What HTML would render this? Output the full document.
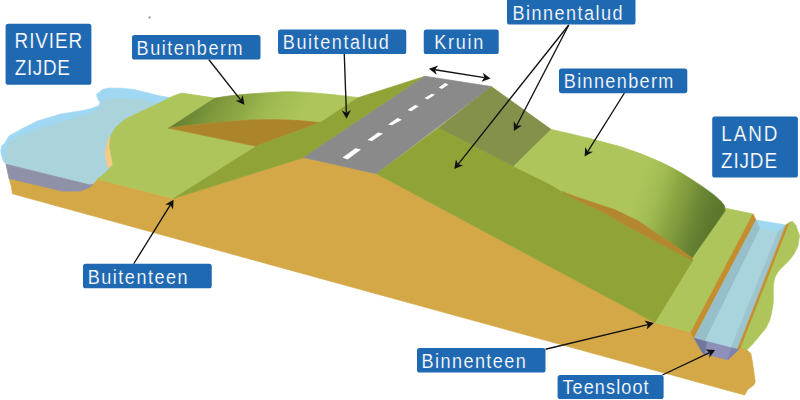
<!DOCTYPE html>
<html><head><meta charset="utf-8"><style>
html,body{margin:0;padding:0;background:#fff;width:800px;height:400px;overflow:hidden}
svg{display:block}
</style></head><body>
<svg width="800" height="400" viewBox="0 0 800 400">
<defs>
<linearGradient id="gb" gradientUnits="userSpaceOnUse" x1="169" y1="128" x2="257.1" y2="182.9"><stop offset="0" stop-color="#64802e"/><stop offset="0.13" stop-color="#6e8a36"/><stop offset="0.24" stop-color="#7a953a"/><stop offset="0.29" stop-color="#7f993d"/><stop offset="0.52" stop-color="#8fa946"/><stop offset="0.61" stop-color="#98b24d"/><stop offset="0.71" stop-color="#a0ba52"/><stop offset="0.92" stop-color="#a9c257"/><stop offset="1" stop-color="#adc55a"/></linearGradient>
<linearGradient id="gi" gradientUnits="userSpaceOnUse" x1="640" y1="183.9" x2="718.85" y2="209.6"><stop offset="0" stop-color="#adc55a"/><stop offset="0.12" stop-color="#a7c157"/><stop offset="0.23" stop-color="#a2bc54"/><stop offset="0.35" stop-color="#96b04b"/><stop offset="0.45" stop-color="#8ba543"/><stop offset="0.58" stop-color="#7f993d"/><stop offset="0.76" stop-color="#6b8634"/><stop offset="0.86" stop-color="#637e30"/><stop offset="1" stop-color="#5b772b"/></linearGradient>
</defs>
<path d="M9,178 L97,179 L173.5,198.5 L303.75,157.5 L376.5,173.8 L654.75,322.6 L691,332 L694,338 L742.5,346 L746,349 L750.75,353.5 L752.25,361 L753.75,371.5 L755.25,382 L753.75,385 L747.75,389.5 L744.5,395 L12.5,193.75 L11.25,186 Z" fill="#d4a847" stroke="#d4a847" stroke-width="0.7" stroke-linejoin="round"/>
<polygon points="4.5,143.5 9,136 22.5,128.5 37.5,121 60,114.25 82.5,110.5 90,108.9 98.75,105.75 100,102.6 97.5,98.25 96.5,94.5 102.5,89.5 108.75,88 121.25,88.25 133.75,89.5 146.25,92.6 158.75,95.75 170,97.6 178,98 170,120 112,170 90,183 6,164.25 3,160.5 0.75,151.5 1.5,146" fill="#a0d8f3" stroke="#a0d8f3" stroke-width="0.7" stroke-linejoin="round"/>
<polygon points="9,142.5 12,141 22.5,135.5 45,127 67.5,120.25 90,114.25 97,110.5 100.5,106.5 101.5,101 108.75,98.9 127.5,98.25 140,99.5 152.5,102.6 162,105.5 120,150 108,157.5 107,169.5 97,179 93,184 90,185 6,164.25 5.25,158 6,150" fill="#abd3db" stroke="#abd3db" stroke-width="0.7" stroke-linejoin="round"/>
<polygon points="6,164.25 90,185 93,184 90,187 86,189 80,191 63,191.2 9,178.5" fill="#8f91a9" stroke="#8f91a9" stroke-width="0.7" stroke-linejoin="round"/>
<polygon points="110.8,135.5 108.5,138.9 105.1,152.4 107.4,167 110,167 113,164.8 111.9,158 109.6,146.8" fill="#f2cb86" stroke="#f2cb86" stroke-width="0.7" stroke-linejoin="round"/>
<polygon points="97,179 173.5,198.5 256.25,146.25 168.75,128.1 215,98.1 181.9,93.1 172.5,96.25 162.5,101.5 155.1,105.1 140,111.9 124.3,119.8 115.3,127.7 110.8,135.5 109.6,146.8 111.9,158 113,164.8 106.3,171.6 102,175.5" fill="#adc55a" stroke="#adc55a" stroke-width="0.7" stroke-linejoin="round"/>
<path d="M168.75,128.1 L215,98.1 C235,94.5 255,93.5 282.5,91.7 C305,91.5 330,94 362,98 L340,125 L320,122.75 C300,120 275,119 250,120 C225,121.5 195,124 168.75,128.1 Z" fill="url(#gb)" stroke="url(#gb)" stroke-width="0.7" stroke-linejoin="round"/>
<path d="M168.75,128.1 C195,124 225,121.5 250,120 C275,119 300,120 320,122.75 L256.25,146.25 Z" fill="#ac852a" stroke="#ac852a" stroke-width="0.7" stroke-linejoin="round"/>
<path d="M173.5,198.5 L303.75,157.5 L425,76.25 L358.75,97.5 C348,104 340,110 320,122.75 L256.25,146.25 Z" fill="#90a336" stroke="#90a336" stroke-width="0.7" stroke-linejoin="round"/>
<polygon points="303.75,157.5 376.5,173.8 491.25,86.5 425,76.25" fill="#8a8a8a" stroke="#8a8a8a" stroke-width="0.7" stroke-linejoin="round"/>
<polygon points="438.75,87.5 441.9,89 448.5,84.4 445,83.1" fill="#fff"/>
<polygon points="424.4,98.1 427.5,99.4 435,94.75 431.9,93.75" fill="#fff"/>
<polygon points="407.5,110 411.25,111.25 418.75,106.25 415,105" fill="#fff"/>
<polygon points="388.1,124.4 391.9,125.3 401.9,119.75 397.5,118.1" fill="#fff"/>
<polygon points="367.5,140 372,141 383,133.5 378,132.5" fill="#fff"/>
<polygon points="342.5,157.5 347.5,159.5 361,149.5 355.5,148.2" fill="#fff"/>
<polygon points="724.5,208 753,214 691,332 654.75,322.6 680,265 712,208" fill="#adc55a" stroke="#adc55a" stroke-width="0.7" stroke-linejoin="round"/>
<path d="M376.5,173.8 L438.75,127.5 L513.75,166.25 L535,176.5 L552,185 L562,191.5 L575,199 L590,206 L605,213 L624.4,224.6 L656.25,241.6 L693,260 L654.75,322.6 L376.5,173.8 Z" fill="#90a336" stroke="#90a336" stroke-width="0.7" stroke-linejoin="round"/>
<path d="M491.25,86.5 L551.25,129.5 L513.75,166.25 L438.75,127.5 Z" fill="#83914a" stroke="#83914a" stroke-width="0.7" stroke-linejoin="round"/>
<path d="M551.25,129.5 C575,134.5 600,141 620,146.6 C640,153 660,161 676.25,170 C690,178 705,188 714,195 C720,200 723,203 724.5,206 L725,211 L692,258 L669,241.6 L649.9,228.9 L639.25,221.4 L615,209.8 L605.25,206.6 L590,201.5 L575,196.5 L562,191.5 L552,185 L535,176.5 L513.75,166.25 Z" fill="url(#gi)" stroke="url(#gi)" stroke-width="0.7" stroke-linejoin="round"/>
<polygon points="562,191.5 575,196.5 590,201.5 605.25,206.6 615,209.8 639.25,221.4 649.9,228.9 669,241.6 692,257.6 692,260 656.25,241.6 624.4,224.6 605,213 590,206 575,199" fill="#b2872d" stroke="#b2872d" stroke-width="0.7" stroke-linejoin="round"/>
<polygon points="753,214 756,220 693.75,338.75 691,332" fill="#c48e2f" stroke="#c48e2f" stroke-width="0.7" stroke-linejoin="round"/>
<polygon points="756,220 786,225 778,232 760,229" fill="#a0d8f2" stroke="#a0d8f2" stroke-width="0.7" stroke-linejoin="round"/>
<polygon points="756,220 760,229 705,341.5 693.75,338.75" fill="#97bfc9" stroke="#97bfc9" stroke-width="0.7" stroke-linejoin="round"/>
<polygon points="760,229 778,232 731,348 705,341.5" fill="#a9d4dd" stroke="#a9d4dd" stroke-width="0.7" stroke-linejoin="round"/>
<polygon points="778,232 786,225 737.5,349.4 731,348" fill="#9ec5ce" stroke="#9ec5ce" stroke-width="0.7" stroke-linejoin="round"/>
<polygon points="786,225 790,222 741,347.5 737.5,349.4" fill="#c48e2f" stroke="#c48e2f" stroke-width="0.7" stroke-linejoin="round"/>
<polygon points="790,222 792.5,221.5 796,225.5 799.5,236 797.75,246.5 794,254 789,260.5 783,266.5 778.5,271 775,277 773.25,285 773.25,302.5 771.5,313 769.75,320 766,328 761,334 752.25,344.5 747,349.75 741,347.5" fill="#adc55a" stroke="#adc55a" stroke-width="0.7" stroke-linejoin="round"/>
<polygon points="694.4,338.3 738.6,349.7 727.6,359.75 703.1,353.6" fill="#8d90b8" stroke="#8d90b8" stroke-width="0.7" stroke-linejoin="round"/>
<polygon points="694.4,338.3 706.6,342.25 704.3,353.7 703.1,353.6" fill="#71779b" stroke="#71779b" stroke-width="0.7" stroke-linejoin="round"/>
<polygon points="732,348 738.6,349.7 727.6,359.75" fill="#7e84ab" stroke="#7e84ab" stroke-width="0.7" stroke-linejoin="round"/>
<circle cx="149.6" cy="17.5" r="0.9" fill="#a3a38a" stroke="#a3a38a" stroke-width="0.7" stroke-linejoin="round"/>
<line x1="208.75" y1="59.5" x2="240.61" y2="99.89" stroke="#111" stroke-width="1.35"/><polygon points="244.40,104.70 235.52,100.87 240.61,99.89 242.75,95.18" fill="#111"/>
<line x1="344.25" y1="54" x2="346.38" y2="112.63" stroke="#111" stroke-width="1.35"/><polygon points="346.60,118.75 341.69,110.42 346.38,112.63 350.89,110.09" fill="#111"/>
<line x1="435.05" y1="69.75" x2="484.45" y2="77.55" stroke="#111" stroke-width="1.35"/><polygon points="490.50,78.50 481.39,81.72 484.45,77.55 482.82,72.63" fill="#111"/><polygon points="429.00,68.80 436.68,74.67 435.05,69.75 438.11,65.58" fill="#111"/>
<line x1="568.75" y1="25" x2="458.06" y2="164.31" stroke="#111" stroke-width="1.35"/><polygon points="454.25,169.10 455.94,159.58 458.06,164.31 463.14,165.31" fill="#111"/>
<line x1="568.75" y1="25" x2="516.71" y2="125.56" stroke="#111" stroke-width="1.35"/><polygon points="513.90,131.00 513.72,121.34 516.71,125.56 521.89,125.56" fill="#111"/>
<line x1="624.4" y1="93" x2="587.85" y2="151.41" stroke="#111" stroke-width="1.35"/><polygon points="584.60,156.60 585.21,146.95 587.85,151.41 593.01,151.83" fill="#111"/>
<line x1="133.75" y1="263.75" x2="170.37" y2="204.95" stroke="#111" stroke-width="1.35"/><polygon points="173.60,199.75 173.01,209.40 170.37,204.95 165.20,204.53" fill="#111"/>
<line x1="545.5" y1="349.25" x2="647.90" y2="324.54" stroke="#111" stroke-width="1.35"/><polygon points="653.85,323.10 646.67,329.57 647.90,324.54 644.51,320.62" fill="#111"/>
<line x1="662.4" y1="375" x2="709.57" y2="352.62" stroke="#111" stroke-width="1.35"/><polygon points="715.10,350.00 709.39,357.80 709.57,352.62 705.45,349.49" fill="#111"/>
<g fill="#fff" font-family="Liberation Sans, sans-serif" stroke="#1f69b3" stroke-width="0.2">
<rect x="5.6" y="23.85" width="85.8" height="60.95" rx="2.6" fill="#1f69b3" stroke="none"/><text transform="translate(14.60,48) scale(0.86,1)" font-size="22" textLength="78.51" lengthAdjust="spacing">RIVIER</text><text transform="translate(14.69,75.2) scale(0.86,1)" font-size="22" textLength="64.10" lengthAdjust="spacing">ZIJDE</text>
<rect x="132" y="35" width="128.5" height="24.5" rx="2.6" fill="#1f69b3" stroke="none"/><text transform="translate(136.61,54.5) scale(0.86,1)" font-size="21" textLength="123.12" lengthAdjust="spacing">Buitenberm</text>
<rect x="278" y="29.5" width="128.25" height="24.5" rx="2.6" fill="#1f69b3" stroke="none"/><text transform="translate(282.79,49.25) scale(0.86,1)" font-size="21" textLength="123.37" lengthAdjust="spacing">Buitentalud</text>
<rect x="423.75" y="29.5" width="75" height="24.5" rx="2.6" fill="#1f69b3" stroke="none"/><text transform="translate(434.17,48.75) scale(0.86,1)" font-size="21" textLength="57.27" lengthAdjust="spacing">Kruin</text>
<rect x="507" y="-3" width="128.5" height="27.5" rx="2.6" fill="#1f69b3" stroke="none"/><text transform="translate(512.51,20) scale(0.86,1)" font-size="21" textLength="128.08" lengthAdjust="spacing">Binnentalud</text>
<rect x="559" y="68.4" width="128.3" height="24.8" rx="2.6" fill="#1f69b3" stroke="none"/><text transform="translate(563.79,88.1) scale(0.86,1)" font-size="21" textLength="127.43" lengthAdjust="spacing">Binnenberm</text>
<rect x="712.2" y="116.6" width="85.7" height="60.9" rx="2.6" fill="#1f69b3" stroke="none"/><text transform="translate(721.26,141) scale(0.86,1)" font-size="22" textLength="65.25" lengthAdjust="spacing">LAND</text><text transform="translate(721.08,168.2) scale(0.86,1)" font-size="22" textLength="65.03" lengthAdjust="spacing">ZIJDE</text>
<rect x="83" y="263.75" width="128.75" height="24.5" rx="2.6" fill="#1f69b3" stroke="none"/><text transform="translate(87.79,283.75) scale(0.86,1)" font-size="21" textLength="115.99" lengthAdjust="spacing">Buitenteen</text>
<rect x="417" y="348" width="128.5" height="24.5" rx="2.6" fill="#1f69b3" stroke="none"/><text transform="translate(421.61,367.5) scale(0.86,1)" font-size="21" textLength="121.16" lengthAdjust="spacing">Binnenteen</text>
<rect x="557.6" y="375" width="106" height="24" rx="2.6" fill="#1f69b3" stroke="none"/><text transform="translate(562.43,394.4) scale(0.86,1)" font-size="21" textLength="100.21" lengthAdjust="spacing">Teensloot</text>
</g>
</svg>
</body></html>
